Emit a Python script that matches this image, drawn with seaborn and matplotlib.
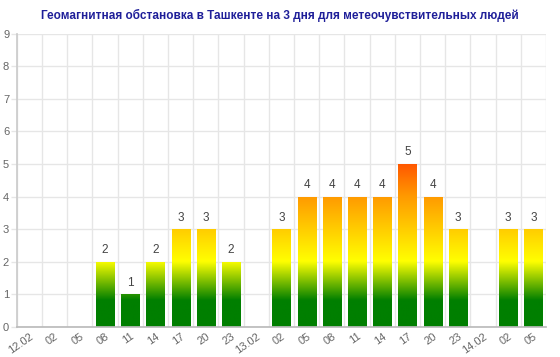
import numpy as np
import pandas as pd
import seaborn as sns
import matplotlib
matplotlib.use("Agg")
import matplotlib.pyplot as plt
from matplotlib.colors import LinearSegmentedColormap

# Kp index forecast, 3-hour steps
hours = ["12.02", "02", "05", "08", "11", "14", "17", "20", "23",
         "13.02", "02", "05", "08", "11", "14", "17", "20", "23",
         "14.02", "02", "05"]
kp_values = [0, 0, 0, 2, 1, 2, 3, 3, 2,
             0, 3, 4, 4, 4, 4, 5, 4, 3,
             0, 3, 3]
title_text = "Геомагнитная обстановка в Ташкенте на 3 дня для метеочувствительных людей"

y_max = 9
# colour stops along the value axis
grad_levels = [0, 0.8, 2, 4, 5, 9]
grad_colors = ["#007f00", "#007f00", "#ffff00", "#ff9900", "#ff5500", "#ff0000"]

sns.set_theme(style="white")
plt.rcParams["font.family"] = ["Liberation Sans", "DejaVu Sans"]

df = pd.DataFrame({"slot": [f"{i}" for i in range(len(hours))], "kp": kp_values})

fig = plt.figure(figsize=(5.6, 3.57), dpi=100)
ax = fig.add_axes([0.030, 0.084, 0.945, 0.822])

sns.barplot(data=df, x="slot", y="kp", ax=ax, width=0.72, color="#008000",
            linewidth=0, saturation=1)

cmap = LinearSegmentedColormap.from_list(
    "kp", [(lv / y_max, c) for lv, c in zip(grad_levels, grad_colors)])
grad = np.linspace(0, 1, 512).reshape(-1, 1)

for patch, val in zip(ax.patches, kp_values):
    x0 = patch.get_x()
    w = patch.get_width()
    patch.set_facecolor("none")
    im = ax.imshow(grad, cmap=cmap, origin="lower", aspect="auto",
                   extent=[x0, x0 + w, 0, y_max], zorder=2)
    im.set_clip_path(patch)
    if val > 0:
        ax.annotate(str(val), (x0 + w / 2, val), xytext=(0, 4),
                    textcoords="offset points", ha="center", va="bottom",
                    fontsize=8.5, color="#444444")

ax.set_xlim(-0.5, len(hours) - 0.5)
ax.set_ylim(0, y_max)

ax.set_yticks(range(0, y_max + 1))
ax.set_xticks(range(len(hours)))
ax.set_xticklabels(hours, rotation=35, ha="right", rotation_mode="anchor")
ax.set_xticks(np.arange(-0.5, len(hours), 1), minor=True)

ax.tick_params(axis="x", which="major", length=0, pad=3, labelsize=8,
               labelcolor="#666666")
ax.tick_params(axis="x", which="minor", length=4, color="#e6e6e6", width=1)
ax.tick_params(axis="y", which="major", length=4, color="#e6e6e6", width=1,
               pad=1.5, labelsize=8, labelcolor="#666666", left=True)

ax.grid(True, axis="y", which="major", color="#e6e6e6", linewidth=1, zorder=0)
ax.grid(True, axis="x", which="minor", color="#e6e6e6", linewidth=1, zorder=0)
ax.grid(False, axis="x", which="major")
ax.set_axisbelow(True)

for side in ["top", "right"]:
    ax.spines[side].set_visible(False)
ax.spines["left"].set_color("#cccccc")
ax.spines["bottom"].set_color("#bbbbbb")
ax.set_xlabel("")
ax.set_ylabel("")

fig.text(0.5, 0.958, title_text, ha="center", va="center", fontsize=8.5,
         fontweight="bold", color="#1f1f99")

fig.savefig("out.png", dpi=100)
